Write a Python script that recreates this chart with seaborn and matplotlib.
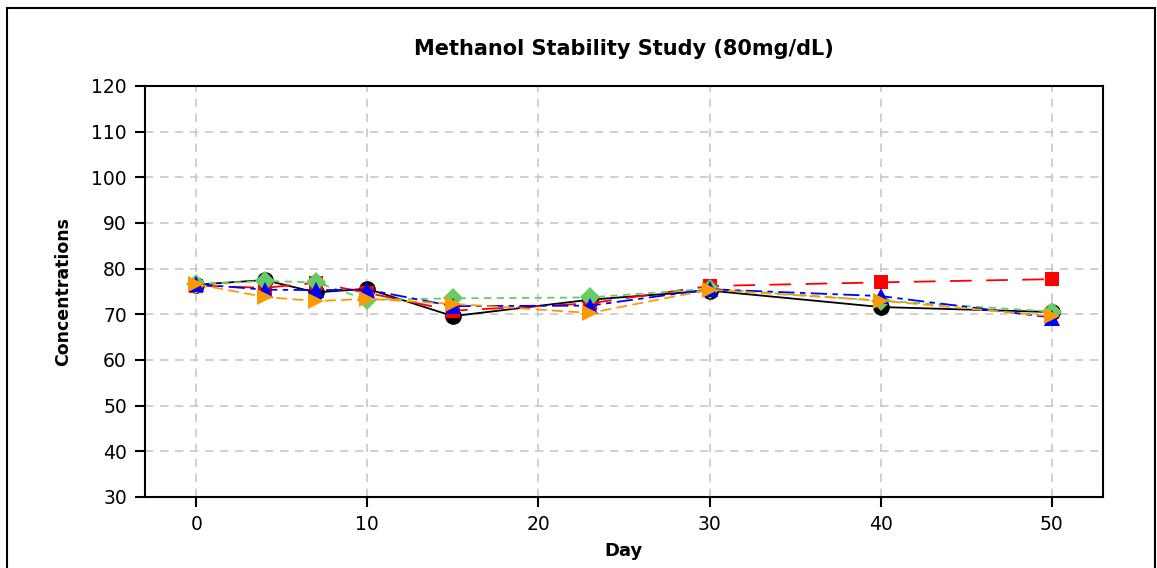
import matplotlib
matplotlib.use("Agg")
import matplotlib.pyplot as plt
import seaborn as sns
import pandas as pd
from matplotlib.patches import Rectangle

# Sampling days and measured methanol concentrations (mg/dL) per sample
days = [0, 4, 7, 10, 15, 23, 30, 40, 50]
sample_a = [76.5, 77.5, 74.8, 75.6, 69.6, 73.2, 75.2, 71.6, 70.5]
sample_b = [76.3, 75.8, 76.9, 74.7, 70.8, 72.4, 76.2, 77.0, 77.7]
sample_c = [76.6, 77.3, 77.0, 73.2, 73.5, 73.7, 75.6, 73.0, 70.6]
sample_d = [76.6, 75.4, 75.3, 75.4, 71.8, 71.9, 75.5, 74.0, 69.3]
sample_e = [76.6, 73.8, 72.9, 73.4, 72.3, 70.3, 75.4, 73.0, 69.6]

x_ticks = [0, 10, 20, 30, 40, 50]
y_ticks = [30, 40, 50, 60, 70, 80, 90, 100, 110, 120]

sns.set_theme(style="white")
plt.rcParams["font.family"] = ["DejaVu Sans"]
plt.rcParams["text.color"] = "black"
plt.rcParams["axes.labelcolor"] = "black"

fig = plt.figure(figsize=(11.57, 5.68), dpi=100)
ax = fig.add_axes([0.1253, 0.125, 0.8280, 0.7236])

series = [
    ("A", sample_a, "black", "o", None, 12),
    ("B", sample_b, "#ff0000", "s", (12, 8), 10.5),
    ("C", sample_c, "#66cc66", "D", (4, 3), 10),
    ("D", sample_d, "#0000ff", "^", (9, 3, 3, 3), 12),
    ("E", sample_e, "#ff9900", ">", (6, 3), 12),
]

for name, vals, color, marker, dash, ms in series:
    df = pd.DataFrame({"Day": days, "Concentration": vals})
    sns.lineplot(data=df, x="Day", y="Concentration", ax=ax, color=color,
                 marker=marker, markersize=ms, markeredgewidth=0,
                 linewidth=1.3, legend=False)
    if dash is not None:
        ax.lines[-1].set_dashes(dash)

ax.set_xlim(-3, 53)
ax.set_ylim(30, 120)
ax.set_xticks(x_ticks)
ax.set_yticks(y_ticks)
ax.grid(True, color="#c8c8c8", linestyle=(0, (5, 4)), linewidth=1.2)
ax.set_axisbelow(True)

for sp in ax.spines.values():
    sp.set_color("black")
    sp.set_linewidth(1.5)

ax.tick_params(axis="both", direction="out", length=7, width=1.5,
               color="black", labelsize=13.5, labelcolor="black",
               bottom=True, left=True, pad=6)

ax.set_title("Methanol Stability Study (80mg/dL)", fontsize=15,
             fontweight="bold", pad=22, color="black")
ax.set_xlabel("Day", fontsize=13, fontweight="bold", labelpad=6)
ax.set_ylabel("Concentrations", fontsize=12.5, fontweight="bold",
              labelpad=14)

# Outer frame around the whole figure
fig.patches.append(Rectangle((0.006, -0.01), 0.992, 0.996,
                             transform=fig.transFigure, fill=False,
                             edgecolor="black", linewidth=1.5))

fig.savefig("out.png", dpi=100)
